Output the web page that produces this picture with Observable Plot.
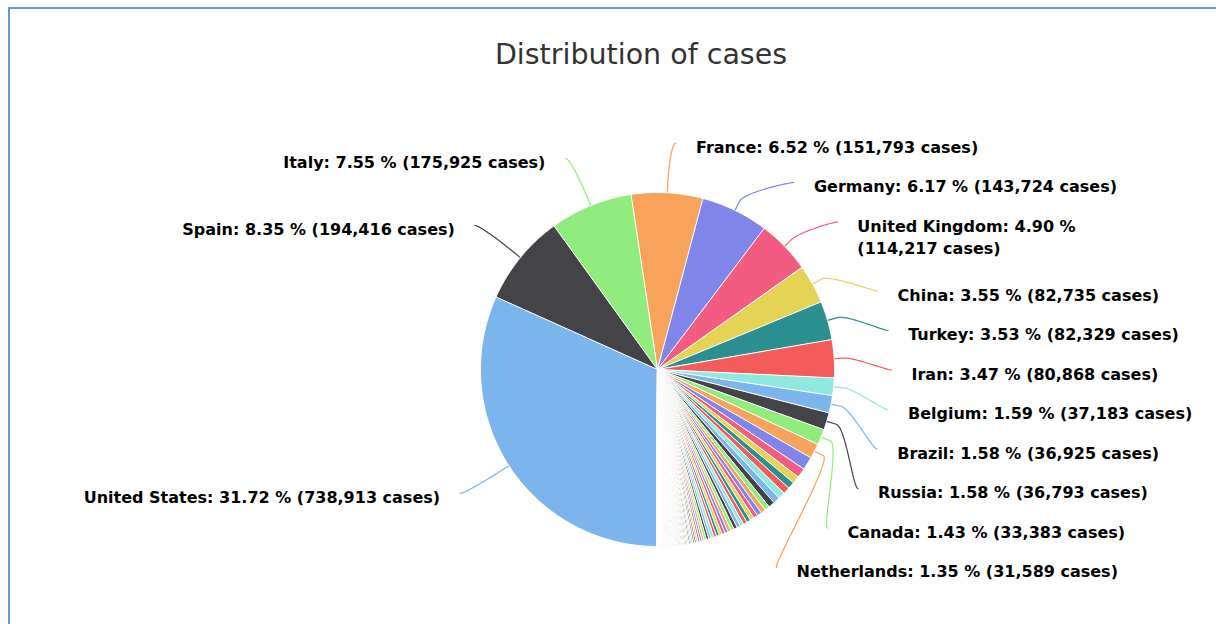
<!DOCTYPE html>
<html><head><meta charset="utf-8">
<script src="https://cdn.jsdelivr.net/npm/d3@7"></script>
<script src="https://cdn.jsdelivr.net/npm/@observablehq/plot@0.6"></script>
<style>
html,body{margin:0;padding:0;width:1216px;height:624px;overflow:hidden;background:#fff;}
#frame{position:absolute;left:8px;top:7px;width:1400px;height:800px;border:2px solid #5b9bd5;box-sizing:border-box;}
#title{position:absolute;left:0;top:41px;width:1282px;text-align:center;font:28.5px "DejaVu Sans",sans-serif;color:#333;line-height:28px;}
#chart{position:absolute;left:0;top:100px;}
</style></head><body>
<div id="frame"></div>
<div id="title">Distribution of cases</div>
<div id="chart"></div>
<script>
// ---- data ----
const countries = ["United States","Spain","Italy","France","Germany","United Kingdom","China","Turkey","Iran","Belgium","Brazil","Russia","Canada","Netherlands",
"Switzerland","Portugal","India","Ireland","Austria","Peru","Sweden","Israel","South Korea","Japan","Chile","Ecuador","Poland","Romania","Saudi Arabia","Pakistan","Mexico","Denmark","Norway","UAE","Czechia","Australia","Indonesia","Philippines","Serbia","Singapore","Malaysia","Ukraine","Qatar","Belarus","Dominican Republic","Panama","Finland","Colombia","Luxembourg","South Africa","Egypt","Argentina","Thailand","Morocco","Algeria","Moldova","Greece","Bangladesh","Hungary","Croatia","Bahrain","Iceland","Kuwait","Kazakhstan","Estonia","Uzbekistan","Iraq","Azerbaijan","Slovenia","Lithuania","Bosnia and Herzegovina","Oman","Armenia","North Macedonia","New Zealand","Slovakia","Cameroon","Cuba","Afghanistan","Bulgaria","Tunisia","Ivory Coast","Djibouti","Ghana","Cyprus","Latvia","Andorra","Diamond Princess","Lebanon","Costa Rica","Niger","Burkina Faso","Albania","Nigeria","Uruguay","Guinea","Kyrgyzstan","Bolivia","San Marino","Honduras","Palestine","Jordan","Malta","Taiwan","Georgia","Senegal","DR Congo","Mauritius","Montenegro","Sri Lanka","Vietnam","Kenya","Guatemala","Venezuela","Mali","Paraguay","El Salvador","Somalia","Jamaica","Tanzania","Rwanda","Congo","Brunei","Cambodia","Madagascar","Trinidad and Tobago","Gabon","Ethiopia","Liberia","Myanmar","Monaco","Togo","Liechtenstein","Equatorial Guinea","Barbados","Sudan","Guyana","Zambia","Cape Verde","Bahamas","Uganda","Libya","Guinea-Bissau","Haiti","Sierra Leone","Eritrea","Benin","Mozambique","Chad","Mongolia","Nepal","Zimbabwe","Angola","Antigua and Barbuda","Eswatini","Laos","Timor-Leste","Belize","Fiji","Malawi","Dominica","Namibia","Botswana","Saint Lucia","Grenada","Saint Kitts and Nevis","Central African Republic","Burundi","Seychelles","Suriname","Gambia","Nicaragua","Holy See","Mauritania","Papua New Guinea","Western Sahara","Bhutan","South Sudan","Yemen"];
const cases = [738913,194416,175925,151793,143724,114217,82735,82329,80868,37183,36925,36793,33383,31589,
27944,20206,15722,14758,14749,14420,14385,13265,10653,10296,9730,9022,8742,8418,8274,7638,7497,7242,7078,6781,6746,6533,6248,6087,5994,5992,5305,5106,5008,4779,4335,4210,3783,3621,3537,3034,2844,2839,2733,2685,2418,2378,2224,2144,1834,1832,1773,1760,1751,1676,1512,1490,1482,1373,1317,1298,1285,1266,1248,1145,1098,1089,1016,986,933,894,866,847,846,834,767,727,713,712,672,660,648,565,548,542,528,518,506,493,461,457,449,413,412,398,370,350,327,325,307,271,268,262,235,227,216,206,190,164,163,147,144,143,138,122,121,114,109,108,99,98,94,84,81,79,75,66,65,61,61,60,55,51,50,47,43,39,35,35,33,32,31,25,24,23,22,19,19,18,17,17,16,16,15,15,14,14,12,11,11,10,9,9,8,7,7,6,5,4,1];
// percentages as printed in the labels (first 14 countries)
const pctLabels = ["31.72","8.35","7.55","6.52","6.17","4.90","3.55","3.53","3.47","1.59","1.58","1.58","1.43","1.35"];
const palette = ["#7cb5ec","#434348","#90ed7d","#f7a35c","#8085e9","#f15c80","#e4d354","#2b908f","#f45b5b","#91e8e1"];

// ---- layout ----
const W = 1216, H = 524;
const cx = 657, cy = 269, r = 177, rl = 228;
const plotTop = 27.25, plotBottom = 512, wrapLimit = 1210;
const anchorOff = 15.25, boxPad = 10, lineBox = 29.5;
const connGap = 6, textGap = 26, breakOff = 10;
const FONT = "DejaVu Sans", FS = 16;

const data = countries.map((name, i) => ({name, cases: cases[i], i}));
const arcs = d3.pie().sort(null).value(d => d.cases).startAngle(Math.PI).endAngle(3 * Math.PI)(data);

// slice polygons
const slicePts = [];
const step = Math.PI / 360;
for (const a of arcs) {
  const name = a.data.name;
  slicePts.push({name, x: cx, y: cy});
  const n = Math.max(1, Math.ceil((a.endAngle - a.startAngle) / step));
  for (let k = 0; k <= n; k++) {
    const t = a.startAngle + (a.endAngle - a.startAngle) * k / n;
    slicePts.push({name, x: cx + r * Math.sin(t), y: cy - r * Math.cos(t)});
  }
}

// labels
const ctx = document.createElement("canvas").getContext("2d");
ctx.font = `bold ${FS}px "${FONT}"`;
const fmt = d3.format(",");
const labels = arcs.slice(0, pctLabels.length).map((a, i) => {
  const mid = (a.startAngle + a.endAngle) / 2;
  const s = Math.sin(mid) >= 0 ? 1 : -1;
  return {
    name: a.data.name, mid, s,
    full: `${a.data.name}: ${pctLabels[i]} % (${fmt(a.data.cases)} cases)`,
    yN: cy - rl * Math.cos(mid), xN: cx + rl * Math.sin(mid), lines: 1
  };
});

function distribute(items) {
  items.sort((a, b) => a.yN - b.yN);
  for (const it of items) { it.size = boxPad + lineBox * it.lines; it.target = it.yN - anchorOff + it.size / 2; }
  let boxes = items.map(it => ({members: [it], size: it.size, targets: [it.target]}));
  let overlapping = true;
  while (overlapping) {
    for (const b of boxes) {
      const t = (Math.min(...b.targets) + Math.max(...b.targets)) / 2;
      b.pos = Math.max(plotTop, Math.min(t - b.size / 2, plotBottom - b.size));
    }
    overlapping = false;
    for (let i = 1; i < boxes.length; i++) {
      const p = boxes[i - 1], b = boxes[i];
      if (p.pos + p.size > b.pos + 0.01) {
        p.members.push(...b.members); p.targets.push(...b.targets); p.size += b.size;
        boxes.splice(i, 1); overlapping = true; break;
      }
    }
  }
  for (const b of boxes) { let y = b.pos; for (const m of b.members) { m.top = y; y += m.size; } }
}
function place() {
  for (const side of [1, -1]) distribute(labels.filter(l => l.s === side));
  for (const l of labels) {
    l.ay = l.top + anchorOff;
    const moved = Math.abs(l.ay - l.yN) > 3;
    l.ax = moved ? cx + l.s * Math.sqrt(Math.max(0, rl * rl - (l.ay - cy) ** 2)) : l.xN;
    l.cxEnd = l.ax + l.s * connGap;
    l.tx = l.ax + l.s * textGap;
    l.ty = l.ay - 6;
  }
}
place();
for (const l of labels) {
  const w = ctx.measureText(l.full).width;
  if ((l.s > 0 && l.tx + w > wrapLimit) || (l.s < 0 && l.tx - w < 14)) l.lines = 2;
}
place();
for (const l of labels) l.text = l.lines > 1 ? l.full.replace(" (", "\n(") : l.full;

// connectors (soft "fixedOffset" curve)
const connPts = [];
for (const l of labels) {
  const dx = Math.sin(l.mid), dy = -Math.cos(l.mid);
  const T = [cx + r * dx, cy + r * dy];
  const B = [T[0] + breakOff * dx, T[1] + breakOff * dy];
  const P0 = [l.cxEnd, l.ay], P1 = [l.cxEnd - l.s * 5, l.ay], P2 = [2 * B[0] - T[0], 2 * B[1] - T[1]], P3 = B;
  for (let k = 0; k <= 24; k++) {
    const t = k / 24, u = 1 - t;
    connPts.push({name: l.name,
      x: u*u*u*P0[0] + 3*u*u*t*P1[0] + 3*u*t*t*P2[0] + t*t*t*P3[0],
      y: u*u*u*P0[1] + 3*u*u*t*P1[1] + 3*u*t*t*P2[1] + t*t*t*P3[1]});
  }
  connPts.push({name: l.name, x: T[0], y: T[1]});
}

const textOpts = {x: "tx", y: "ty", text: "text", lineAnchor: "top", lineHeight: 1.375,
  fontSize: FS, fontWeight: "bold", fontFamily: FONT, fill: "#000"};

const chart = Plot.plot({
  width: W, height: H, margin: 0,
  style: {background: "transparent", overflow: "visible"},
  x: {domain: [0, W], range: [0, W], axis: null},
  y: {domain: [0, H], range: [0, H], axis: null},
  color: {type: "ordinal", domain: countries, range: countries.map((_, i) => palette[i % palette.length])},
  marks: [
    Plot.line(connPts, {x: "x", y: "y", z: "name", stroke: "name", strokeWidth: 1.2, curve: "linear"}),
    Plot.line(slicePts, {x: "x", y: "y", z: "name", fill: "name", stroke: "#ffffff", strokeWidth: 1, strokeLinejoin: "round", curve: "linear-closed"}),
    Plot.text(labels.filter(l => l.s > 0), {...textOpts, textAnchor: "start"}),
    Plot.text(labels.filter(l => l.s < 0), {...textOpts, textAnchor: "end"})
  ]
});
document.getElementById("chart").appendChild(chart);
</script>
</body></html>
